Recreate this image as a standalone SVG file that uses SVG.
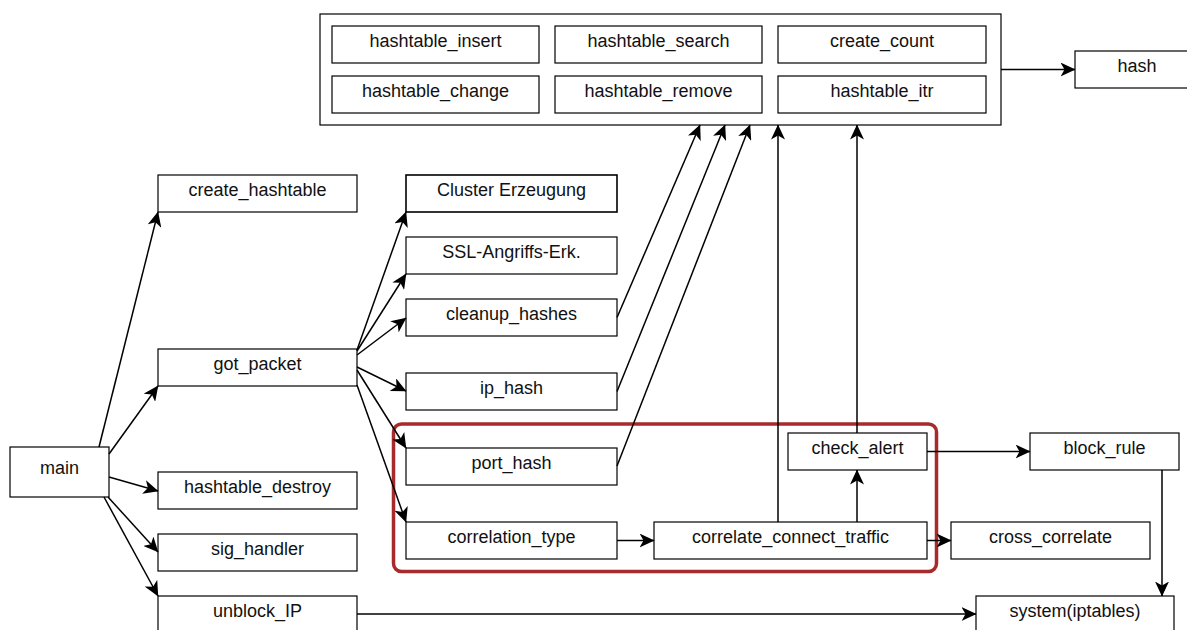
<svg xmlns="http://www.w3.org/2000/svg" width="1187" height="630" viewBox="0 0 1187 630">
  <style>
    .box { fill: #ffffff; stroke: #000000; stroke-width: 1.2; }
    .lbl { font-family: "Liberation Sans", Arial, Helvetica, sans-serif; font-size: 18px; fill: #111111; text-anchor: middle; }
    .edge { fill: none; stroke: #000000; stroke-width: 1.5; }
    .group { fill: none; stroke: #a82b2b; stroke-width: 3.5; }
  </style>
  <defs>
    <marker id="arrow" viewBox="0 0 15 14" markerWidth="15" markerHeight="14" refX="14.5" refY="7" orient="auto" markerUnits="userSpaceOnUse">
      <path d="M0,0 L15,7 L0,14 L4,7 z" fill="#000000"/>
    </marker>
  </defs>
  <rect width="1187" height="630" fill="#ffffff"/>

  <!-- hashtable library block -->
  <g id="hashtable-lib">
    <rect class="box" x="320" y="14" width="681" height="111"/>
    <g id="hashtable_insert"><rect class="box" x="332" y="26" width="207" height="37"/><text class="lbl" x="435.5" y="47">hashtable_insert</text></g>
    <g id="hashtable_search"><rect class="box" x="555" y="26" width="207" height="37"/><text class="lbl" x="658.5" y="47">hashtable_search</text></g>
    <g id="create_count"><rect class="box" x="778" y="26" width="208" height="37"/><text class="lbl" x="882" y="47">create_count</text></g>
    <g id="hashtable_change"><rect class="box" x="332" y="76" width="207" height="37"/><text class="lbl" x="435.5" y="97">hashtable_change</text></g>
    <g id="hashtable_remove"><rect class="box" x="555" y="76" width="207" height="37"/><text class="lbl" x="658.5" y="97">hashtable_remove</text></g>
    <g id="hashtable_itr"><rect class="box" x="778" y="76" width="208" height="37"/><text class="lbl" x="882" y="97">hashtable_itr</text></g>
  </g>

  <g id="hash"><rect class="box" x="1075" y="51" width="124" height="37"/><text class="lbl" x="1137" y="72">hash</text></g>

  <!-- left column -->
  <g id="main"><rect class="box" x="10" y="447" width="99" height="50"/><text class="lbl" x="59.5" y="474">main</text></g>
  <g id="create_hashtable"><rect class="box" x="158" y="175" width="199" height="37"/><text class="lbl" x="257.5" y="196">create_hashtable</text></g>
  <g id="got_packet"><rect class="box" x="158" y="349" width="199" height="37"/><text class="lbl" x="257.5" y="370">got_packet</text></g>
  <g id="hashtable_destroy"><rect class="box" x="158" y="472" width="199" height="37"/><text class="lbl" x="257.5" y="493">hashtable_destroy</text></g>
  <g id="sig_handler"><rect class="box" x="158" y="534" width="199" height="37"/><text class="lbl" x="257.5" y="555">sig_handler</text></g>
  <g id="unblock_IP"><rect class="box" x="158" y="596" width="199" height="37"/><text class="lbl" x="257.5" y="617">unblock_IP</text></g>

  <!-- got_packet callees -->
  <g id="cluster_erzeugung"><rect class="box" x="406" y="175" width="211" height="37" style="stroke-width:1.6"/><text class="lbl" x="511.5" y="196">Cluster Erzeugung</text></g>
  <g id="ssl_angriffs_erk"><rect class="box" x="406" y="237" width="211" height="37"/><text class="lbl" x="511.5" y="258">SSL-Angriffs-Erk.</text></g>
  <g id="cleanup_hashes"><rect class="box" x="406" y="299" width="211" height="37"/><text class="lbl" x="511.5" y="320">cleanup_hashes</text></g>
  <g id="ip_hash"><rect class="box" x="406" y="373" width="211" height="37"/><text class="lbl" x="511.5" y="394">ip_hash</text></g>
  <g id="port_hash"><rect class="box" x="406" y="448" width="211" height="37"/><text class="lbl" x="511.5" y="469">port_hash</text></g>
  <g id="correlation_type"><rect class="box" x="406" y="522" width="211" height="37"/><text class="lbl" x="511.5" y="543">correlation_type</text></g>
  <g id="correlate_connect_traffic"><rect class="box" x="654" y="522" width="273" height="37"/><text class="lbl" x="790.5" y="543">correlate_connect_traffic</text></g>
  <g id="check_alert"><rect class="box" x="788" y="433" width="139" height="37"/><text class="lbl" x="857.5" y="454">check_alert</text></g>

  <!-- highlighted correlation area -->
  <g id="correlation-group"><rect class="group" x="393.5" y="424" width="543" height="147.5" rx="8" ry="8"/></g>

  <g id="cross_correlate"><rect class="box" x="951" y="522" width="199" height="37"/><text class="lbl" x="1050.5" y="543">cross_correlate</text></g>
  <g id="block_rule"><rect class="box" x="1030" y="433" width="149" height="37"/><text class="lbl" x="1104.5" y="454">block_rule</text></g>
  <g id="system_iptables"><rect class="box" x="976" y="596" width="198" height="37"/><text class="lbl" x="1075" y="617">system(iptables)</text></g>

  <!-- call edges -->
  <g id="connectors" class="edges">
    <line class="edge" x1="1001" y1="69.5" x2="1075" y2="69.5" marker-end="url(#arrow)"/>
    <line class="edge" x1="99" y1="447" x2="158" y2="212" marker-end="url(#arrow)"/>
    <line class="edge" x1="109" y1="454" x2="158" y2="386" marker-end="url(#arrow)"/>
    <line class="edge" x1="109" y1="477" x2="158" y2="491" marker-end="url(#arrow)"/>
    <line class="edge" x1="108" y1="497" x2="158" y2="552" marker-end="url(#arrow)"/>
    <line class="edge" x1="104" y1="497" x2="158" y2="596" marker-end="url(#arrow)"/>

    <line class="edge" x1="357" y1="350" x2="406" y2="212" marker-end="url(#arrow)"/>
    <line class="edge" x1="357" y1="351" x2="406" y2="274" marker-end="url(#arrow)"/>
    <line class="edge" x1="357" y1="355" x2="406" y2="318" marker-end="url(#arrow)"/>
    <line class="edge" x1="357" y1="367" x2="406" y2="391" marker-end="url(#arrow)"/>
    <line class="edge" x1="357" y1="370" x2="406" y2="448" marker-end="url(#arrow)"/>
    <line class="edge" x1="357" y1="385" x2="406" y2="522" marker-end="url(#arrow)"/>

    <line class="edge" x1="617" y1="317.5" x2="700" y2="125" marker-end="url(#arrow)"/>
    <line class="edge" x1="617" y1="391.5" x2="725" y2="125" marker-end="url(#arrow)"/>
    <line class="edge" x1="617" y1="466" x2="750" y2="125" marker-end="url(#arrow)"/>
    <line class="edge" x1="778" y1="522" x2="778" y2="125" marker-end="url(#arrow)"/>
    <line class="edge" x1="857" y1="433" x2="857" y2="125" marker-end="url(#arrow)"/>

    <line class="edge" x1="617" y1="540.5" x2="654" y2="540.5" marker-end="url(#arrow)"/>
    <line class="edge" x1="857" y1="522" x2="857" y2="470" marker-end="url(#arrow)"/>
    <line class="edge" x1="927" y1="540.5" x2="951" y2="540.5" marker-end="url(#arrow)"/>
    <line class="edge" x1="927" y1="451.5" x2="1030" y2="451.5" marker-end="url(#arrow)"/>
    <line class="edge" x1="1162" y1="470" x2="1162" y2="596" marker-end="url(#arrow)"/>
    <line class="edge" x1="357" y1="614" x2="976" y2="614" marker-end="url(#arrow)"/>
  </g>
</svg>
